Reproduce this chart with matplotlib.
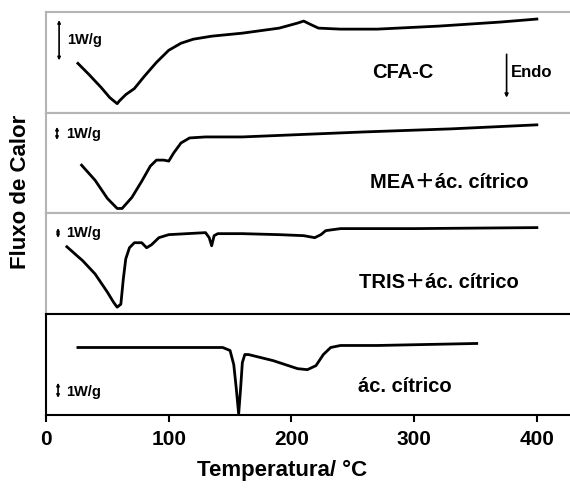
import matplotlib
matplotlib.use("Agg")
import matplotlib.pyplot as plt

# temperaturas (C) e fluxo de calor (unidades arbitrarias)
T_cfa = [26, 35, 45, 52, 58, 60, 65, 72, 80, 90, 100, 110, 120, 135, 160, 190, 205, 210, 215, 222, 240, 270, 320, 370, 400]
q_cfa = [49, 38, 25, 15, 9, 12, 18, 24, 36, 50, 62, 69, 73, 76, 79, 84, 89, 91, 88, 84, 83, 83, 86, 90, 93]

T_mea = [29, 40, 50, 58, 62, 70, 78, 85, 90, 96, 100, 104, 110, 117, 130, 160, 200, 260, 330, 400]
q_mea = [48, 33, 15, 5, 5, 16, 32, 47, 53, 53, 52, 60, 70, 75, 76, 76, 78, 81, 84, 88]

T_tris = [17, 30, 40, 50, 55, 58, 61, 63, 65, 68, 72, 78, 82, 86, 92, 100, 115, 130, 133, 135, 137, 140, 160, 190, 210, 219, 224, 228, 240, 300, 400]
q_tris = [67, 53, 40, 22, 12, 7, 10, 35, 55, 66, 71, 71, 66, 69, 76, 79, 80, 81, 76, 68, 78, 80, 80, 79, 78, 76, 79, 83, 85, 85, 86]

T_cit = [26, 100, 144, 150, 153, 155, 157, 158.5, 160, 162, 165, 185, 205, 213, 220, 226, 232, 240, 270, 351]
q_cit = [67, 67, 67, 64, 50, 27, 1, 25, 52, 60, 60, 54, 46, 45, 49, 60, 67, 69, 69, 71]

nomes = ["CFA-C", "MEA\uff0bác. cítrico", "TRIS\uff0bác. cítrico", "ác. cítrico"]
xticks = [0, 100, 200, 300, 400]

fonte = ["Liberation Sans", "Noto Sans CJK SC"]
plt.rcParams['font.family'] = fonte
plt.rcParams['font.weight'] = 'bold'

fig = plt.figure(figsize=(5.7, 4.9), dpi=100)

curvas = [(T_cfa, q_cfa), (T_mea, q_mea), (T_tris, q_tris), (T_cit, q_cit)]
# posicoes das escalas 1W/g: (x, y0, y1, xtexto, ytexto)
barras = [(0.025, 0.92, 0.52, 0.040, 0.72),
          (0.021, 0.86, 0.73, 0.038, 0.79),
          (0.023, 0.856, 0.757, 0.038, 0.81),
          (0.023, 0.32, 0.17, 0.038, 0.23)]
pos_nome = [(0.68, 0.40), (0.77, 0.31), (0.75, 0.32), (0.685, 0.28)]

esq = 46 / 570
larg = 1 - esq
alt = 100.75 / 490
topo = 1 - 12 / 490

eixos = []
for i in range(4):
    ax = fig.add_axes([esq, topo - alt * (i + 1), larg, alt])
    T, q = curvas[i]
    ax.plot(T, q, color="black", lw=2.0, solid_joinstyle="round")
    ax.set_xlim(0, 427)
    ax.set_ylim(0, 100)
    ax.set_yticks([])
    ax.spines["right"].set_visible(False)
    if i < 3:
        for s in ["top", "left", "bottom"]:
            ax.spines[s].set_color("#b4b4b4")
            ax.spines[s].set_linewidth(1.5)
        ax.set_xticks([])
    else:
        for s in ["top", "left", "bottom"]:
            ax.spines[s].set_color("black")
            ax.spines[s].set_linewidth(1.5)
        ax.set_xticks(xticks)
        ax.tick_params(axis="x", direction="out", length=5, width=1.5, labelsize=15, pad=6)
        for lb in ax.get_xticklabels():
            lb.set_fontweight("bold")
        ax.set_xlabel("Temperatura/ °C", fontsize=16, fontweight="bold")
        ax.xaxis.set_label_coords(0.45, -0.45)

    bx, b0, b1, tx, ty = barras[i]
    ax.annotate("", xy=(bx, b1), xytext=(bx, b0), xycoords="axes fraction",
                arrowprops=dict(arrowstyle="<|-|>", color="black", lw=1.2,
                                mutation_scale=4, shrinkA=0, shrinkB=0))
    ax.text(tx, ty, "1W/g", transform=ax.transAxes, fontsize=10.5, fontweight="bold",
            va="center", ha="left")
    nx, ny = pos_nome[i]
    ax.text(nx, ny, nomes[i], transform=ax.transAxes, fontsize=14.5, fontweight="bold",
            va="center", ha="center", family=fonte)
    eixos.append(ax)

# seta Endo
ax0 = eixos[0]
ax0.annotate("", xy=(0.879, 0.15), xytext=(0.879, 0.58), xycoords="axes fraction",
             arrowprops=dict(arrowstyle="-|>", color="black", lw=1.2,
                             mutation_scale=5, shrinkA=0, shrinkB=0))
ax0.text(0.887, 0.40, "Endo", transform=ax0.transAxes, fontsize=12, fontweight="bold",
         va="center", ha="left")

fig.text(0.036, 1 - 192 / 490, "Fluxo de Calor", rotation=90, fontsize=16,
         fontweight="bold", va="center", ha="center")

fig.savefig("out.png", dpi=100)
